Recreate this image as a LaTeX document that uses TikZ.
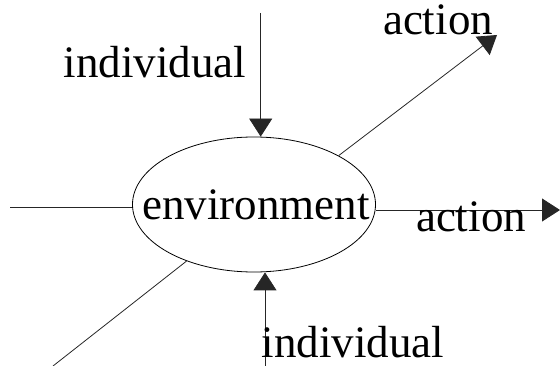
\documentclass[tikz,border=0pt]{standalone}
\usepackage{fontspec}
\setmainfont{Liberation Serif}
\usetikzlibrary{arrows.meta,shapes.geometric}
\begin{document}
\begin{tikzpicture}[x=1pt,y=-1pt,
  lbl/.style={font=\fontsize{45}{52}\selectfont, inner sep=0pt, anchor=base},
  conn/.style={line width=0.8pt, draw=black!85},
  arr/.style={conn, -{Triangle[length=18pt,width=23pt]}}]
\useasboundingbox (0,0) rectangle (560,366);
\node[ellipse, draw, line width=0.8pt, minimum width=243pt, minimum height=135pt, inner sep=0pt] (env) at (254,204.5) {};
\node[lbl] (envt) at (256,220) {environment};
\coordinate (t1) at (260.7,13);
\coordinate (b1) at (265,366);
\coordinate (l1) at (10,207);
\coordinate (r1) at (560,210);
\coordinate (ur) at (497,35);
\coordinate (ll) at (53,366);
\draw[arr] (t1) -- (t1 |- env.north);
\draw[arr] (b1) -- (b1 |- env.south);
\draw[conn] (l1) -- (l1 -| env.west);
\draw[arr] (r1 -| env.east) -- (r1);
\draw[arr] (env.30) -- (ur);
\draw[conn] (env.220) -- (ll);
\node[lbl] (i1) at (155,78) {individual};
\node[lbl] (a1) at (438,35) {action};
\node[lbl] (a2) at (471,232) {action};
\node[lbl] (i2) at (353,357) {individual};
\end{tikzpicture}
\end{document}
